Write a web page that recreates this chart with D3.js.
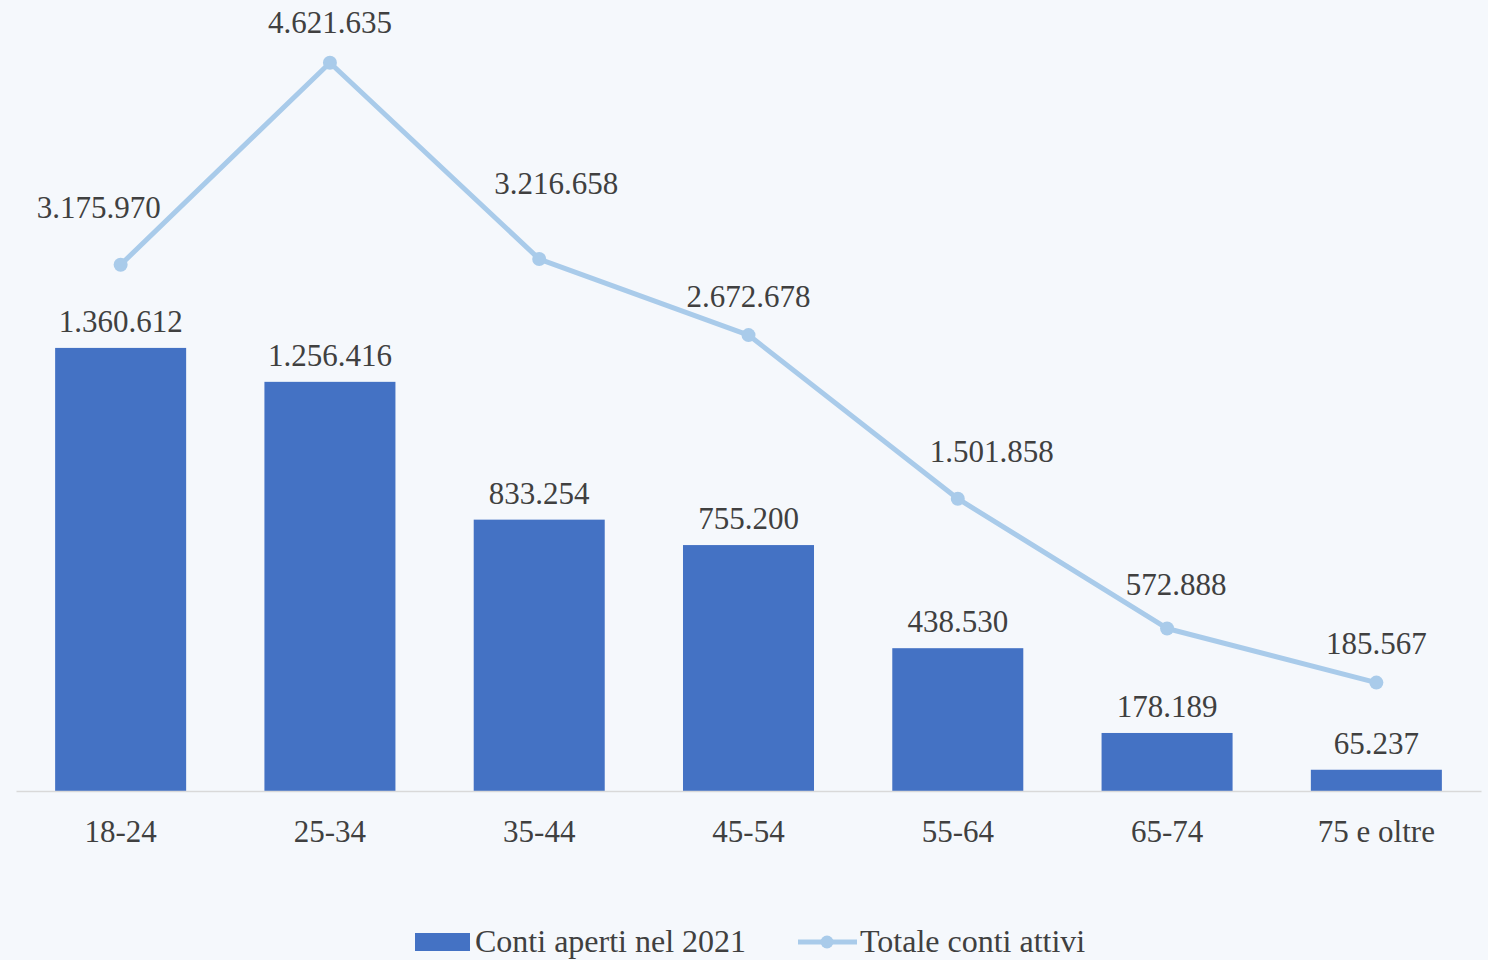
<!DOCTYPE html>
<meta charset="utf-8">
<html lang="it">

<head>
    <script src="https://d3js.org/d3.v7.min.js"></script>
    <meta charset="UTF-8" />
    <title>Conti per fascia d'età</title>
    <style>
        html, body { margin: 0; padding: 0; background: #f5f8fc; }
        svg { display: block; }
        text { font-family: "Liberation Serif", "DejaVu Serif", serif; fill: #404040; }
    </style>
</head>

<body>
    <svg></svg>
</body>

</html>
<script>
    // data
    const ageGroups = ["18-24", "25-34", "35-44", "45-54", "55-64", "65-74", "75 e oltre"];
    const contiAperti2021 = [1360612, 1256416, 833254, 755200, 438530, 178189, 65237];
    const totaleContiAttivi = [3175970, 4621635, 3216658, 2672678, 1501858, 572888, 185567];
    const seriesNames = ["Conti aperti nel 2021", "Totale conti attivi"];

    let width = 1488, height = 960;
    const plotLeft = 16, plotRight = 1481, plotTop = 42, plotBottom = 791;
    const barColor = "#4472c4", lineColor = "#a9cbea";
    const fontSize = 31;

    // hand nudges for the line labels (like the Excel original)
    const lineLabelNudge = [[-22, -47], [0, -30], [17, -65], [0, -28], [34, -37], [9, -33], [0, -29]];

    const fmt = (v) => d3.format(",")(v).replace(/,/g, ".");

    let svg = d3.select("svg").attr("width", width).attr("height", height);

    let x = d3.scaleBand()
        .domain(ageGroups)
        .range([plotLeft, plotRight])
        .paddingInner(0.374)
        .paddingOuter(0.187);

    let yBar = d3.scaleLinear().domain([0, 2300000]).range([plotBottom, plotTop]);
    let yLine = d3.scaleLinear().domain([-590000, 4770000]).range([plotBottom, plotTop]);

    // bars
    svg.append("g")
        .selectAll("rect")
        .data(contiAperti2021)
        .enter()
        .append("rect")
        .attr("x", (d, i) => x(ageGroups[i]))
        .attr("y", (d) => yBar(d))
        .attr("width", x.bandwidth())
        .attr("height", (d) => yBar(0) - yBar(d))
        .attr("fill", barColor);

    // x axis
    let xAxis = svg.append("g")
        .attr("transform", `translate(0, ${plotBottom})`)
        .call(d3.axisBottom(x).tickSize(0).tickPadding(0));
    xAxis.select(".domain").attr("stroke", "#d9d9d9").attr("stroke-width", 1.5);
    xAxis.selectAll("text")
        .attr("dy", 0)
        .attr("y", 51)
        .style("font-size", fontSize + "px")
        .style("font-family", "\"Liberation Serif\", serif")
        .attr("fill", "#404040");

    // bar labels
    svg.append("g")
        .selectAll("text")
        .data(contiAperti2021)
        .enter()
        .append("text")
        .attr("x", (d, i) => x(ageGroups[i]) + x.bandwidth() / 2)
        .attr("y", (d) => yBar(d) - 16)
        .attr("text-anchor", "middle")
        .style("font-size", fontSize + "px")
        .text((d) => fmt(d));

    // line
    const cx = (i) => x(ageGroups[i]) + x.bandwidth() / 2;
    let line = d3.line()
        .x((d, i) => cx(i))
        .y((d) => yLine(d));

    svg.append("path")
        .datum(totaleContiAttivi)
        .attr("d", line)
        .attr("fill", "none")
        .attr("stroke", lineColor)
        .attr("stroke-width", 5)
        .attr("stroke-linejoin", "round");

    svg.append("g")
        .selectAll("circle")
        .data(totaleContiAttivi)
        .enter()
        .append("circle")
        .attr("cx", (d, i) => cx(i))
        .attr("cy", (d) => yLine(d))
        .attr("r", 7)
        .attr("fill", lineColor);

    svg.append("g")
        .selectAll("text")
        .data(totaleContiAttivi)
        .enter()
        .append("text")
        .attr("x", (d, i) => cx(i) + lineLabelNudge[i][0])
        .attr("y", (d, i) => yLine(d) + lineLabelNudge[i][1])
        .attr("text-anchor", "middle")
        .style("font-size", fontSize + "px")
        .text((d) => fmt(d));

    // legend
    let legend = svg.append("g").attr("id", "legend");
    legend.append("rect")
        .attr("x", 415).attr("y", 933)
        .attr("width", 55).attr("height", 18)
        .attr("fill", barColor);
    legend.append("text")
        .attr("x", 475).attr("y", 952)
        .style("font-size", "32px")
        .text(seriesNames[0]);
    legend.append("line")
        .attr("x1", 798).attr("x2", 857)
        .attr("y1", 942).attr("y2", 942)
        .attr("stroke", lineColor)
        .attr("stroke-width", 5);
    legend.append("circle")
        .attr("cx", 827).attr("cy", 942)
        .attr("r", 6.5)
        .attr("fill", lineColor);
    legend.append("text")
        .attr("x", 860).attr("y", 952)
        .style("font-size", "32px")
        .text(seriesNames[1]);
</script>
